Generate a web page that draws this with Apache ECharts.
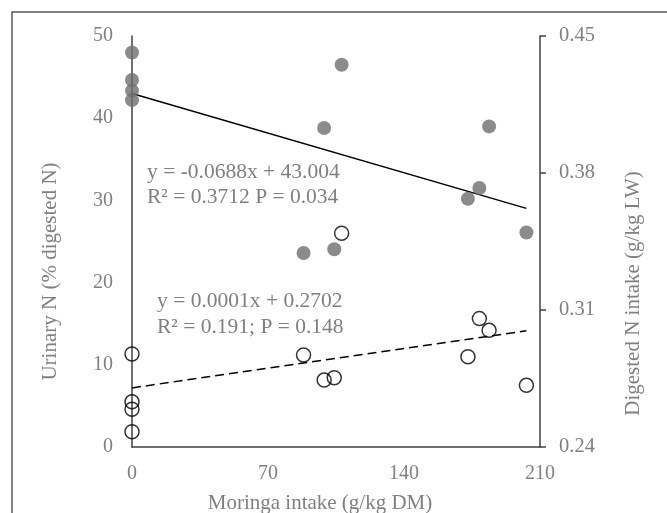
<!DOCTYPE html>
<html>
<head>
<meta charset="utf-8">
<script src="https://cdn.jsdelivr.net/npm/echarts@6/dist/echarts.min.js"></script>
<style>
html,body{margin:0;padding:0;background:#fff;}
#chart{width:667px;height:513px;}
</style>
</head>
<body>
<div id="chart"></div>
<script>
// Moringa intake (g/kg DM) for each animal
const moringaIntake = [0, 0, 0, 0, 88.3, 98.9, 104.1, 107.9, 172.9, 178.8, 183.8, 203];
// Urinary N (% digested N) — filled circles, left axis
const urinaryN = [48.0, 44.65, 43.35, 42.2, 23.6, 38.8, 24.05, 46.5, 30.2, 31.5, 39.0, 26.1];
// Digested N intake (g/kg LW) — open circles, right axis
const digestedN = [0.2478, 0.2593, 0.2631, 0.2875, 0.2870, 0.2742, 0.2754, 0.3492, 0.2861, 0.3056, 0.2996, 0.2715];
// Trend line end points
const trendX = [0, 203];
const urinaryTrend = [43.004, 29.03];
const digestedTrend = [0.2702, 0.2994];
// Tick labels
const xTicks = [0, 70, 140, 210];
const leftTicks = [0, 10, 20, 30, 40, 50];
const rightTicks = [0.24, 0.31, 0.38, 0.45];
// Equation texts
const eqUrinary = ['y = -0.0688x + 43.004', 'R² = 0.3712 P = 0.034'];
const eqDigested = ['y = 0.0001x + 0.2702', 'R² = 0.191; P = 0.148'];

const FONT = '"Liberation Serif", "Times New Roman", serif';
const TXT = '#808080';
const AX = '#404040';

const chart = echarts.init(document.getElementById('chart'), null, {renderer: 'canvas'});
chart.setOption({
  backgroundColor: '#fff',
  animation: false,
  grid: {left: 132, right: 127, top: 36, bottom: 66, containLabel: false, outerBoundsMode: 'none'},
  xAxis: {
    type: 'value', min: 0, max: 210, interval: 70,
    name: 'Moringa intake (g/kg DM)', nameLocation: 'middle', nameGap: 46,
    nameTextStyle: {fontFamily: FONT, fontSize: 21, color: TXT, padding: [0, 32, 0, 0]},
    axisLine: {show: true, onZero: false, lineStyle: {color: AX, width: 1.5}},
    axisTick: {show: false},
    splitLine: {show: false},
    axisLabel: {fontFamily: FONT, fontSize: 20, color: TXT, margin: 17,
      customValues: xTicks, formatter: v => String(v)}
  },
  yAxis: [{
    type: 'value', min: 0, max: 50, interval: 10, position: 'left',
    name: 'Urinary N (% digested N)', nameLocation: 'middle', nameGap: 71,
    nameTextStyle: {fontFamily: FONT, fontSize: 21, color: TXT, padding: [0, 60, 0, 0]},
    axisLine: {show: true, onZero: false, lineStyle: {color: AX, width: 1.5}},
    axisTick: {show: false},
    splitLine: {show: false},
    axisLabel: {fontFamily: FONT, fontSize: 20, color: TXT, margin: 19,
      customValues: leftTicks, formatter: v => String(v)}
  }, {
    type: 'value', min: 0.24, max: 0.45, position: 'right',
    name: 'Digested N intake (g/kg LW)', nameLocation: 'middle', nameGap: 83,
    nameTextStyle: {fontFamily: FONT, fontSize: 21, color: TXT, padding: [0, 104, 0, 0]},
    axisLine: {show: true, onZero: false, lineStyle: {color: AX, width: 1.5}},
    axisTick: {show: true, inside: false, length: 6, lineStyle: {color: AX, width: 1.5},
      customValues: rightTicks},
    splitLine: {show: false},
    axisLabel: {fontFamily: FONT, fontSize: 20.5, color: TXT, margin: 19,
      customValues: rightTicks, formatter: v => v.toFixed(2)}
  }],
  series: [{
    type: 'line', yAxisIndex: 0, symbol: 'none', z: 3,
    lineStyle: {color: '#000', width: 1.5},
    data: trendX.map((x, i) => [x, urinaryTrend[i]])
  }, {
    type: 'line', yAxisIndex: 1, symbol: 'none', z: 3,
    lineStyle: {color: '#000', width: 1.5, type: [9, 5]},
    data: trendX.map((x, i) => [x, digestedTrend[i]])
  }, {
    type: 'scatter', yAxisIndex: 0, symbol: 'circle', symbolSize: 14, z: 4,
    itemStyle: {color: '#6e6e6e'},
    data: moringaIntake.map((x, i) => [x, urinaryN[i]])
  }, {
    type: 'scatter', yAxisIndex: 1, symbol: 'circle', symbolSize: 14, z: 4,
    itemStyle: {color: 'rgba(0,0,0,0)', borderColor: '#000', borderWidth: 1.5},
    data: moringaIntake.map((x, i) => [x, digestedN[i]])
  }],
  graphic: [{
    type: 'rect', silent: true, z: 0,
    shape: {x: 12, y: 12, width: 700, height: 600},
    style: {fill: 'none', stroke: '#595959', lineWidth: 1.5}
  }, {
    type: 'text', left: 147, top: 160, z: 5,
    style: {text: eqUrinary.join('\n'), font: '21.5px ' + FONT, fill: TXT, lineHeight: 25}
  }, {
    type: 'text', left: 157, top: 288, z: 5,
    style: {text: eqDigested.join('\n'), font: '21.5px ' + FONT, fill: TXT, lineHeight: 26}
  }]
});
</script>
</body>
</html>
